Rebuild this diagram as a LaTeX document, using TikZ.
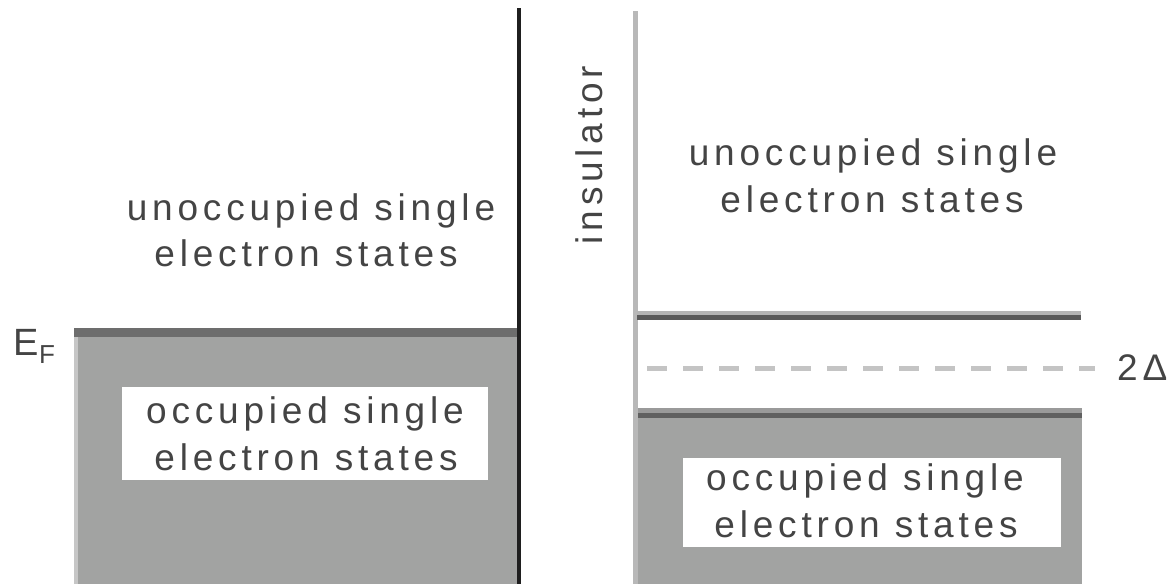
\documentclass[tikz,border=0pt]{standalone}
\usepackage{fontspec}
\newfontfamily\lblfont[LetterSpace=13]{Liberation Sans}
\newfontfamily\symfont{Liberation Sans}
\definecolor{bandfill}{HTML}{A2A3A2}
\definecolor{banddark}{HTML}{6D6D6D}
\definecolor{edgelight}{HTML}{C6C6C6}
\definecolor{axisdark}{HTML}{1F1F1F}
\definecolor{axislight}{HTML}{B8B8B8}
\definecolor{linelight}{HTML}{B5B5B5}
\definecolor{linedark}{HTML}{5A5A5A}
\definecolor{bandtop}{HTML}{9A9A9A}
\definecolor{banddark2}{HTML}{606060}
\definecolor{dashgray}{HTML}{C4C4C4}
\definecolor{txt}{HTML}{444444}
\begin{document}
\begin{tikzpicture}[x=1pt,y=-1pt,
  lbl/.style={inner sep=0pt, anchor=base, text=txt, font=\lblfont\fontsize{37}{42}\selectfont},
  whitebox/.style={fill=white, draw=none}]
\useasboundingbox (0,0) rectangle (1173,584);
% ---- left: metal ----
\fill[bandfill] (74,328) rectangle (517,584);
\fill[banddark] (74,328) rectangle (517,337);
\fill[edgelight] (74,337) rectangle (78,584);
\fill[axisdark] (517,8) rectangle (521,584);
\fill[whitebox] (122,387) rectangle (488,480);
\node[lbl] (lu1) at (311,220) {unoccupied single};
\node[lbl] (lu2) at (306,266) {electron states};
\node[lbl] (lo1) at (305,423) {occupied single};
\node[lbl] (lo2) at (306,470) {electron states};
\node[inner sep=0pt, anchor=base east, text=txt, font=\symfont\fontsize{38}{40}\selectfont] (ef) at (39,355) {E};
\node[inner sep=0pt, anchor=base west, text=txt, font=\symfont\fontsize{26}{30}\selectfont] (efsub) at (ef.base east) {\raisebox{-8pt}{F}};
% ---- right: insulator ----
\fill[axislight] (633,11) rectangle (638,584);
\node[lbl, anchor=center, rotate=90] (ins) at (589,155) {insulator};
\fill[linelight] (637,311) rectangle (1081,315);
\fill[linedark] (637,315) rectangle (1081,320);
\coordinate (dashL) at (647,368.5);
\coordinate (dashR) at (1095,368.5);
\draw[dashgray, line width=5pt, dash pattern=on 20pt off 16pt] (dashL) -- (dashR);
\node[lbl, anchor=base west] (gap) at (1117,380) {2Δ};
\fill[bandfill] (638,408) rectangle (1082,584);
\fill[bandtop] (638,408) rectangle (1082,413);
\fill[banddark2] (638,413) rectangle (1082,418);
\fill[whitebox] (683,458) rectangle (1061,547);
\node[lbl] (ru1) at (873,165) {unoccupied single};
\node[lbl] (ru2) at (872,212) {electron states};
\node[lbl] (ro1) at (865,490) {occupied single};
\node[lbl] (ro2) at (866,537) {electron states};
\end{tikzpicture}
\end{document}
